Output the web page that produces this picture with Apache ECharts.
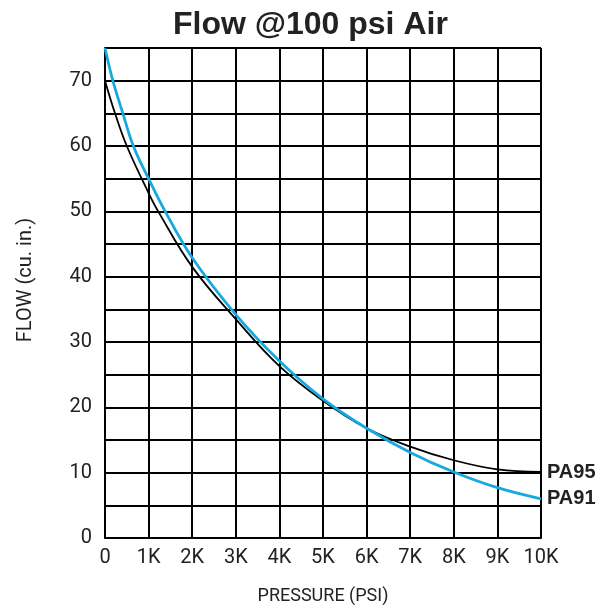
<!DOCTYPE html>
<html>
<head>
<meta charset="utf-8">
<script src="https://cdn.jsdelivr.net/npm/echarts@6/dist/echarts.min.js"></script>
<style>html,body{margin:0;padding:0;background:#fff}#c{width:608px;height:610px}</style>
</head>
<body>
<div id="c"></div>
<script>
// Pressure in thousands of psi (K)
const pa91X = [0, 0.18, 0.41, 0.65, 1, 1.38, 2, 3, 4, 5, 6, 7, 8, 9, 10];
const pa91Y = [75, 70, 65, 60, 55, 50, 42.9, 34.2, 27.1, 21.3, 16.8, 13.1, 10.1, 7.7, 6.0];
const pa95X = [0, 0.23, 0.5, 1, 1.22, 2, 3, 4, 5, 6, 7, 8, 9, 10];
const pa95Y = [70, 65, 60, 52.8, 50, 41.5, 33.5, 26.3, 21.0, 16.8, 14.0, 11.9, 10.5, 10.1];
const yTickLabels = [0, 10, 20, 30, 40, 50, 60, 70];
const titleText = 'Flow @100 psi Air';
const yName = 'FLOW (cu. in.)';
const xName = 'PRESSURE (PSI)';

const chart = echarts.init(document.getElementById('c'));
const pairs = (xs, ys) => xs.map((x, i) => [x, ys[i]]);
const font = 'Roboto, sans-serif';
const boldFont = '"Liberation Sans", Arial, sans-serif';
chart.setOption({
  animation: false,
  title: {
    text: titleText, left: 168, top: 4,
    textStyle: {fontFamily: boldFont, fontWeight: 'bold', fontSize: 32, color: '#222'}
  },
  grid: {left: 105, right: 67, top: 48, bottom: 71},
  graphic: [{
    type: 'text', x: 26, y: 280, rotation: Math.PI / 2,
    style: {text: yName, font: '20px ' + font, fill: '#222', textAlign: 'center', textVerticalAlign: 'middle'}
  }],
  xAxis: {
    type: 'value', min: 0, max: 10, interval: 1,
    name: xName, nameLocation: 'middle', nameGap: 49,
    nameTextStyle: {fontFamily: font, fontSize: 18, color: '#222'},
    axisLine: {show: true, lineStyle: {color: '#000', width: 2}},
    axisTick: {show: false},
    axisLabel: {fontFamily: font, fontSize: 20, color: '#222', margin: 10,
      formatter: v => v === 0 ? '0' : v + 'K'},
    splitLine: {show: true, lineStyle: {color: '#000', width: 2}}
  },
  yAxis: {
    type: 'value', min: 0, max: 75, interval: 5,
    axisLine: {show: true, lineStyle: {color: '#000', width: 2}},
    axisTick: {show: false},
    axisLabel: {fontFamily: font, fontSize: 20, color: '#222', margin: 13,
      formatter: v => yTickLabels.includes(v) ? String(v) : ''},
    splitLine: {show: true, lineStyle: {color: '#000', width: 2}}
  },
  series: [
    {
      name: 'PA95', type: 'line', smooth: 0.4, showSymbol: false, symbol: 'none',
      data: pairs(pa95X, pa95Y), z: 3,
      lineStyle: {color: '#000', width: 1.8},
      endLabel: {show: true, formatter: '{a}', distance: 6, fontFamily: boldFont,
        fontWeight: 'bold', fontSize: 20, color: '#222'}
    },
    {
      name: 'PA91', type: 'line', smooth: 0.4, showSymbol: false, symbol: 'none',
      data: pairs(pa91X, pa91Y), z: 4,
      lineStyle: {color: '#18a8e0', width: 2.8},
      endLabel: {show: true, formatter: '{a}', distance: 6, fontFamily: boldFont,
        fontWeight: 'bold', fontSize: 20, color: '#222'}
    }
  ]
});
</script>
</body>
</html>
